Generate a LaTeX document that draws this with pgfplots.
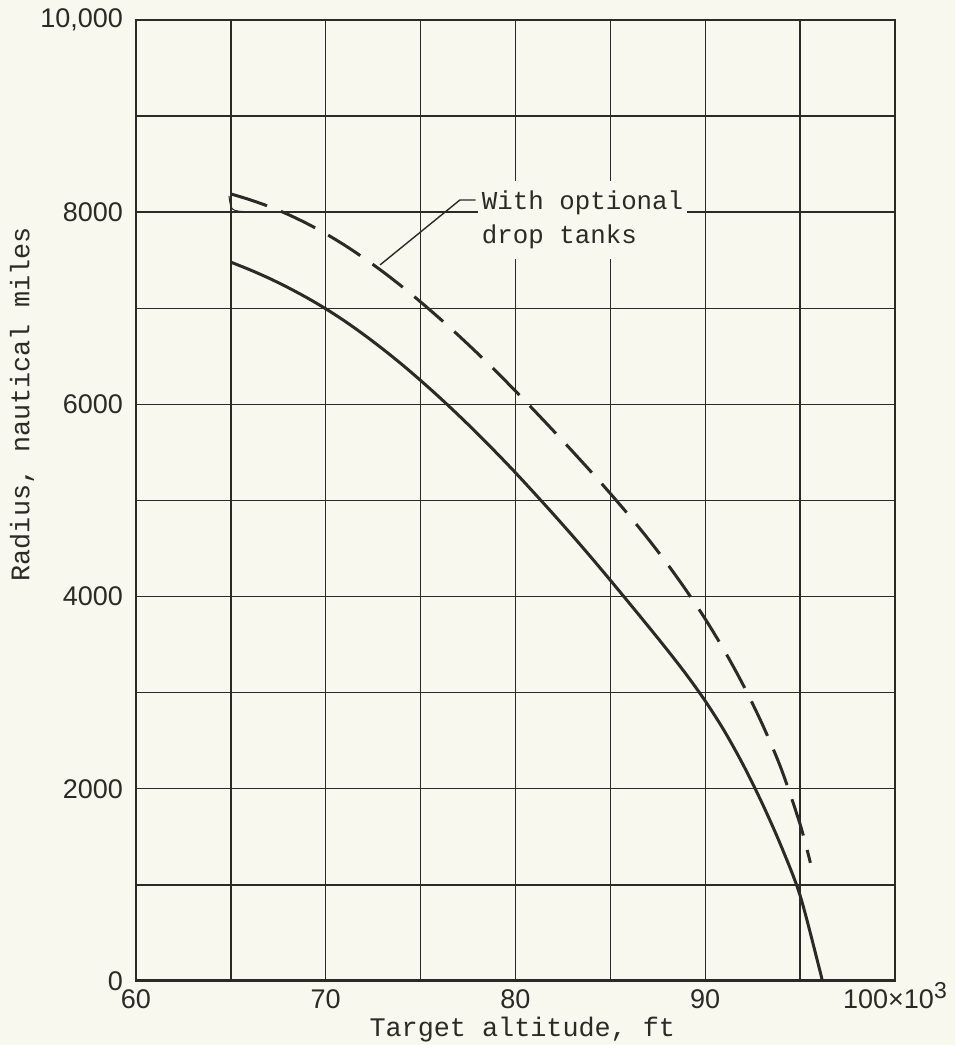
\documentclass[border=0pt]{standalone}
\usepackage{pgfplots}
\pgfplotsset{compat=1.18}
\usepackage{fontspec}
\setmainfont{Liberation Mono}
\setmonofont{Liberation Mono}
\newfontfamily\tickfont{Liberation Sans}
\definecolor{paper}{RGB}{249,248,238}
\definecolor{ink}{RGB}{42,42,38}

% radius (nautical miles) versus target altitude (thousands of ft)
\pgfplotstableread{
alt   radius
65    7480
66    7401
67    7314
68    7217
69    7111
70    6995
71    6867
72    6727
73    6577
74    6418
75    6249
76    6072
77    5887
78    5695
79    5495
80    5289
81    5075
82    4857
83    4634
84    4405
85    4170
86    3931
87    3690
88    3445
89    3190
90    2914
91    2604
92    2249
93    1849
94    1404
95    889
96    140
96.17 0
}\basic
\pgfplotstableread{
alt   radius
65    8190
66    8130
67    8060
68    7978
69    7883
70    7776
71    7656
72    7524
73    7382
74    7229
75    7066
76    6895
77    6717
78    6531
79    6339
80    6139
81    5934
82    5725
83    5512
84    5295
85    5072
86    4841
87    4598
88    4340
89    4064
90    3767
91    3441
92    3080
93    2675
94    2210
95    1630
95.54 1230
}\droptanks

\begin{document}
\begin{tikzpicture}
\useasboundingbox (-68pt,-32pt) rectangle (409.5pt,490.5pt);
\fill[paper] (-68pt,-32pt) rectangle (409.5pt,490.5pt);
\begin{axis}[
  scale only axis, width=379.5pt, height=480.5pt,
  xmin=60, xmax=100, ymin=0, ymax=10000,
  xtick={60,70,80,90,100},
  xticklabels={60,70,80,90,{100×10\smash{\raisebox{0.75ex}{\fontsize{11.5}{11.5}\selectfont 3}}}},
  minor xtick={65,75,85,95},
  ytick={0,2000,4000,6000,8000,10000},
  yticklabels={0,2000,4000,6000,8000,{10,000}},
  minor ytick={1000,3000,5000,7000,9000},
  grid=both,
  major grid style={ink, line width=0.7pt},
  minor grid style={ink, line width=0.7pt},
  major tick length=0pt, minor tick length=0pt,
  axis line style={ink, line width=0.7pt},
  tick label style={font=\tickfont\fontsize{13.5}{14}\selectfont, text=ink},
  yticklabel style={xshift=-3pt},
  xticklabel style={yshift=-1pt},
  xlabel={Target altitude, ft},
  ylabel={Radius, nautical miles},
  label style={font=\ttfamily\fontsize{13.4}{14}\selectfont, text=ink},
  xlabel style={at={(axis description cs:0.509,-0.051)}, anchor=center},
  ylabel style={at={(axis description cs:-0.150,0.600)}, anchor=center},
]
% basic configuration
\addplot[ink, line width=1.5pt, smooth] table[x=alt, y=radius] {\basic};
% with optional drop tanks
\addplot[ink, line width=1.5pt, smooth,
  dash pattern=on 19pt off 7.5pt] table[x=alt, y=radius] {\droptanks};
% heavy base line
\draw[ink, line width=1.6pt] (axis cs:60,0) -- (axis cs:100,0);
% callout
\draw[ink, line width=0.7pt] (axis cs:72.86,7451) -- (axis cs:77.07,8127) -- (axis cs:77.9,8127);
\draw[ink, line width=0.5pt] (axis cs:64.9,8170) .. controls (axis cs:65.0,8010) .. (axis cs:66.0,8005);
\node[fill=paper, anchor=west, align=left, inner xsep=2pt, inner ysep=5pt,
      font=\ttfamily\fontsize{12.9}{17}\selectfont, text=ink]
  at (axis cs:78.0,7920) {With optional\\drop tanks};
\end{axis}
\end{tikzpicture}
\end{document}
